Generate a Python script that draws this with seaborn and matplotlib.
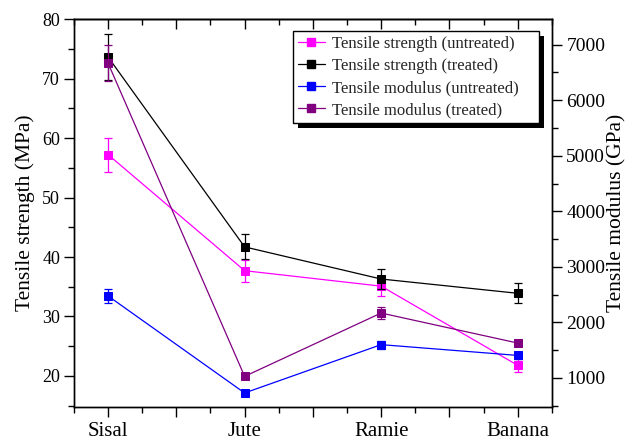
import numpy as np
import pandas as pd
import matplotlib
matplotlib.use("Agg")
import matplotlib.pyplot as plt
import seaborn as sns
from matplotlib.ticker import FixedLocator, FuncFormatter, MultipleLocator
from matplotlib.lines import Line2D
from matplotlib.patches import Rectangle

# Fibre types on the x axis
fibres = ["Sisal", "Jute", "Ramie", "Banana"]

# Tensile strength (MPa), left axis
strength_untreated = [57.2, 37.7, 35.1, 21.8]
strength_untreated_err = [2.85, 1.85, 1.6, 1.1]
strength_treated = [73.6, 41.7, 36.3, 33.9]
strength_treated_err = [3.8, 2.1, 1.7, 1.7]

# Tensile modulus (GPa), right axis
modulus_untreated = [2476, 730, 1600, 1406]
modulus_untreated_err = [120, 30, 70, 70]
modulus_treated = [6666, 1029, 2169, 1629]
modulus_treated_err = [325, 30, 100, 60]

series_labels = [
    "Tensile strength (untreated)",
    "Tensile strength (treated)",
    "Tensile modulus (untreated)",
    "Tensile modulus (treated)",
]
series_colors = ["#FF00FF", "#000000", "#0000FF", "#800080"]

sns.set_theme(style="ticks")
plt.rcParams["font.family"] = ["Liberation Serif", "DejaVu Serif"]
plt.rcParams["axes.edgecolor"] = "black"
plt.rcParams["axes.linewidth"] = 1.0

df = pd.DataFrame({
    "pos": np.arange(len(fibres)),
    "fibre": fibres,
    "su": strength_untreated, "su_err": strength_untreated_err,
    "st": strength_treated, "st_err": strength_treated_err,
    "mu": modulus_untreated, "mu_err": modulus_untreated_err,
    "mt": modulus_treated, "mt_err": modulus_treated_err,
})

fig, ax = plt.subplots(figsize=(6.27, 4.42), dpi=100)
fig.subplots_adjust(left=0.118, right=0.880, top=0.957, bottom=0.080)
ax2 = ax.twinx()

plan = [
    (ax, "su", "su_err", series_colors[0]),
    (ax, "st", "st_err", series_colors[1]),
    (ax2, "mu", "mu_err", series_colors[2]),
    (ax2, "mt", "mt_err", series_colors[3]),
]
for axis, col, err, color in plan:
    sns.lineplot(data=df, x="pos", y=col, ax=axis, color=color, marker="s",
                 markersize=6, markeredgecolor=color, linewidth=0.9,
                 legend=False)
    axis.errorbar(df["pos"], df[col], yerr=df[err], fmt="none", ecolor=color,
                  elinewidth=0.9, capsize=3.2, capthick=0.9)

# Axis limits
ax.set_xlim(-0.25, 3.25)
ax.set_ylim(14.85, 80)
ax2.set_ylim(484, 7462)

# X ticks: majors every half step, labels only at the fibres
ax.xaxis.set_major_locator(FixedLocator(np.arange(0, 3.01, 0.5)))
ax.xaxis.set_minor_locator(FixedLocator(np.arange(-0.25, 3.26, 0.5)))
ax.xaxis.set_major_formatter(FuncFormatter(
    lambda v, p: fibres[int(round(v))] if abs(v - round(v)) < 1e-6 and 0 <= round(v) < len(fibres) else ""))

ax.yaxis.set_major_locator(MultipleLocator(10))
ax.yaxis.set_minor_locator(MultipleLocator(5))
ax2.yaxis.set_major_locator(MultipleLocator(1000))
ax2.yaxis.set_minor_locator(MultipleLocator(500))

ax.tick_params(axis="both", which="major", direction="out", length=7, width=1,
               color="black", labelcolor="black", labelsize=13)
ax.tick_params(axis="both", which="minor", direction="out", length=4, width=1,
               color="black")
ax.tick_params(axis="x", which="major", labelsize=15, pad=4)
ax.tick_params(axis="y", left=True, right=False, pad=3)
ax2.tick_params(axis="y", which="major", direction="out", length=7, width=1,
                color="black", labelcolor="black", labelsize=14)
ax2.tick_params(axis="y", which="minor", direction="out", length=4, width=1,
                color="black")

# Mirrored ticks on the top edge, pointing inward
top = ax.secondary_xaxis("top")
top.xaxis.set_major_locator(FixedLocator(np.arange(0, 3.01, 0.5)))
top.xaxis.set_minor_locator(FixedLocator(np.arange(-0.25, 3.26, 0.5)))
top.tick_params(axis="x", which="major", direction="in", length=7, width=1,
                labeltop=False, color="black")
top.tick_params(axis="x", which="minor", direction="in", length=4, width=1,
                color="black")
top.spines["top"].set_linewidth(1.0)

ax.set_xlabel("")
ax.set_ylabel("Tensile strength (MPa)", fontsize=15.5, color="black", labelpad=5)
ax2.set_ylabel("Tensile modulus (GPa)", fontsize=15.5, color="black", labelpad=1)

for a in (ax, ax2):
    for s in a.spines.values():
        s.set_color("black")
        s.set_linewidth(1.0)

handles = [Line2D([0], [0], color=c, marker="s", markersize=6,
                  markeredgecolor=c, linewidth=0.9) for c in series_colors]
leg = ax2.legend(handles, series_labels, loc="upper left",
                 bbox_to_anchor=(0.4575, 0.7336, 0.516, 0.2362),
                 mode="expand", borderaxespad=0,
                 fancybox=False, framealpha=1, edgecolor="black",
                 fontsize=12, handlelength=1.6, handletextpad=0.45,
                 labelspacing=0.36, borderpad=0.32)
leg.get_frame().set_linewidth(1.0)
leg.set_zorder(6)

# Solid drop shadow behind the legend box
fig.canvas.draw()
bb = leg.get_window_extent(fig.canvas.get_renderer())
inv = ax2.transAxes.inverted()
(x0, y0) = inv.transform((bb.x0 + 5, bb.y0 - 5))
(x1, y1) = inv.transform((bb.x1 + 5, bb.y1 - 5))
ax2.add_patch(Rectangle((x0, y0), x1 - x0, y1 - y0, transform=ax2.transAxes,
                        facecolor="black", edgecolor="none", zorder=5,
                        clip_on=False))

fig.savefig("out.png", dpi=100)
